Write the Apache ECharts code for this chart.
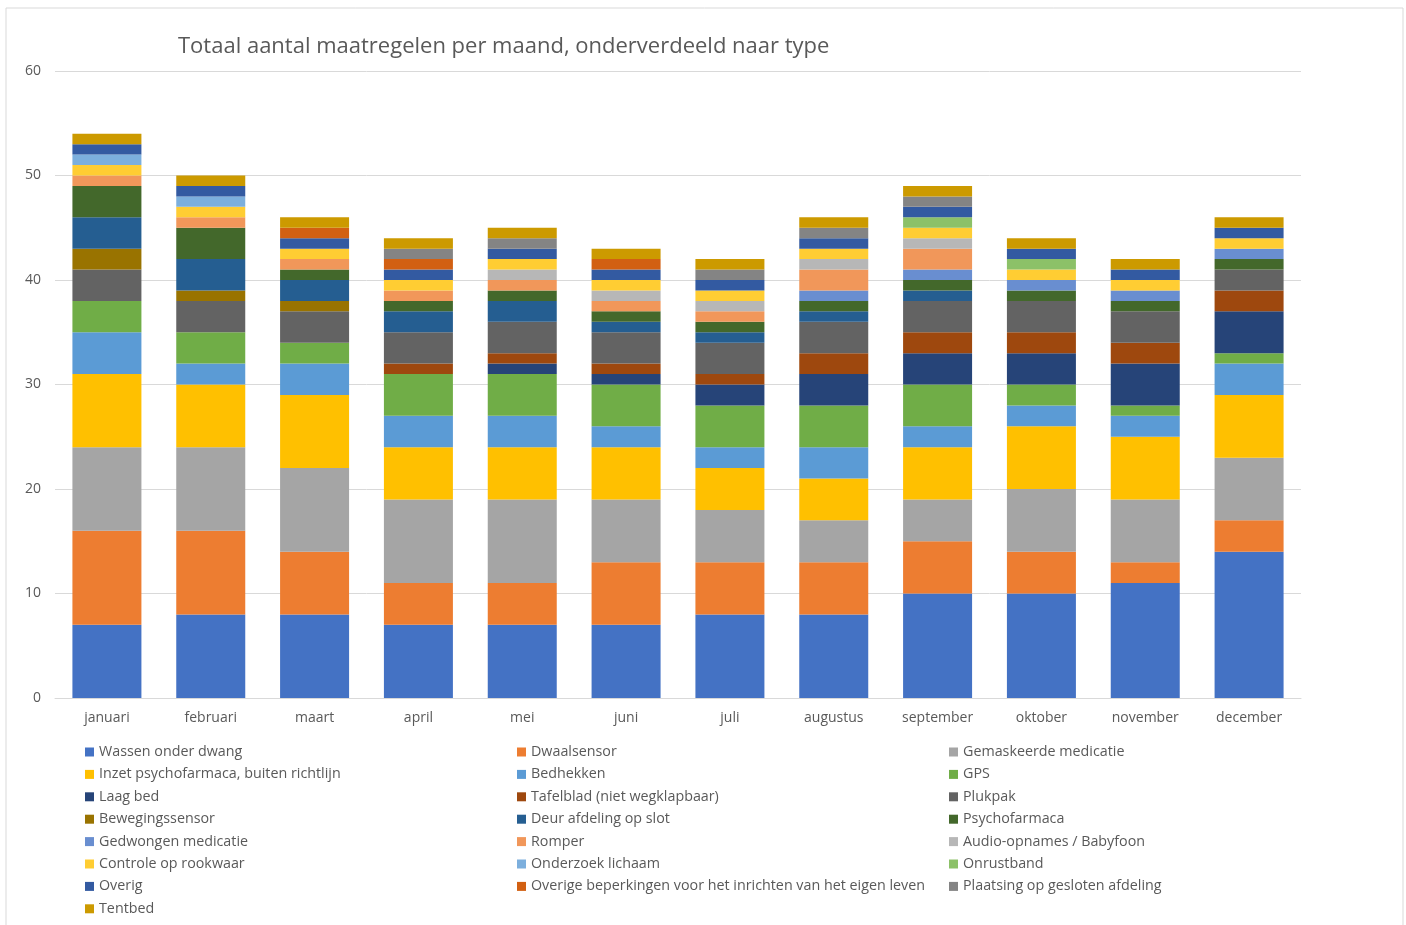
<!DOCTYPE html>
<html><head><meta charset="utf-8">
<script src="https://cdn.jsdelivr.net/npm/echarts@6/dist/echarts.min.js"></script>
<style>html,body{margin:0;padding:0;background:#fff}#c{width:1406px;height:925px}</style>
</head><body><div id="c"></div>
<script>
const months = ['januari','februari','maart','april','mei','juni','juli','augustus','september','oktober','november','december'];
const yTicks = [0,10,20,30,40,50,60];
const seriesNames = ['Wassen onder dwang','Dwaalsensor','Gemaskeerde medicatie','Inzet psychofarmaca, buiten richtlijn','Bedhekken','GPS','Laag bed','Tafelblad (niet wegklapbaar)','Plukpak','Bewegingssensor','Deur afdeling op slot','Psychofarmaca','Gedwongen medicatie','Romper','Audio-opnames / Babyfoon','Controle op rookwaar','Onderzoek lichaam','Onrustband','Overig','Overige beperkingen voor het inrichten van het eigen leven','Plaatsing op gesloten afdeling','Tentbed'];
const colors = ['#4472C4','#ED7D31','#A5A5A5','#FFC000','#5B9BD5','#70AD47','#264478','#9E480E','#636363','#997300','#255E91','#43682B','#698ED0','#F1975A','#B7B7B7','#FFCD33','#7CAFDD','#8CC168','#335AA1','#D26012','#848484','#CC9A00'];

const wassen      = [7,8,8,7,7,7,8,8,10,10,11,14];
const dwaal       = [9,8,6,4,4,6,5,5,5,4,2,3];
const gemask      = [8,8,8,8,8,6,5,4,4,6,6,6];
const inzet       = [7,6,7,5,5,5,4,4,5,6,6,6];
const bedhekken   = [4,2,3,3,3,2,2,3,2,2,2,3];
const gps         = [3,3,2,4,4,4,4,4,4,2,1,1];
const laagBed     = [0,0,0,0,1,1,2,3,3,3,4,4];
const tafelblad   = [0,0,0,1,1,1,1,2,2,2,2,2];
const plukpak     = [3,3,3,3,3,3,3,3,3,3,3,2];
const beweging    = [2,1,1,0,0,0,0,0,0,0,0,0];
const deur        = [3,3,2,2,2,1,1,1,1,0,0,0];
const psycho      = [3,3,1,1,1,1,1,1,1,1,1,1];
const gedwongen   = [0,0,0,0,0,0,0,1,1,1,1,1];
const romper      = [1,1,1,1,1,1,1,2,2,0,0,0];
const audio       = [0,0,0,0,1,1,1,1,1,0,0,0];
const controle    = [1,1,1,1,1,1,1,1,1,1,1,1];
const onderzoek   = [1,1,0,0,0,0,0,0,0,0,0,0];
const onrust      = [0,0,0,0,0,0,0,0,1,1,0,0];
const overig      = [1,1,1,1,1,1,1,1,1,1,1,1];
const overigeBep  = [0,0,1,1,0,1,0,0,0,0,0,0];
const plaatsing   = [0,0,0,1,1,0,1,1,1,0,0,0];
const tentbed     = [1,1,1,1,1,1,1,1,1,1,1,1];

const values = [wassen,dwaal,gemask,inzet,bedhekken,gps,laagBed,tafelblad,plukpak,beweging,deur,psycho,gedwongen,romper,audio,controle,onderzoek,onrust,overig,overigeBep,plaatsing,tentbed];

const FONT = 'Open Sans';
const TXT = '#595959';

const series = seriesNames.map((n,i)=>({
  name:n, type:'bar', stack:'total', barWidth:69,
  data: values[i].map(v=> v===0 ? null : v),
  itemStyle:{color:colors[i]},
  emphasis:{disabled:true}
}));

const legendBase = (x,idxs)=>({
  orient:'vertical', left:x, top:744, height:200, padding:0,
  itemWidth:9, itemHeight:9, itemGap:6.4,
  icon:'rect', selectedMode:false,
  textStyle:{color:TXT, fontFamily:FONT, fontSize:14.3, lineHeight:16},
  data: idxs.map(i=>seriesNames[i])
});

const chart = echarts.init(document.getElementById('c'), null, {renderer:'canvas'});
chart.setOption({
  animation:false,
  color:colors,
  title:{text:'Totaal aantal maatregelen per maand, onderverdeeld naar type', left:173, top:31,
    textStyle:{color:TXT, fontFamily:FONT, fontSize:22, fontWeight:'normal'}},
  graphic:[{type:'rect', shape:{x:6, y:8, width:1397, height:940}, style:{fill:'none', stroke:'#D9D9D9', lineWidth:1}, silent:true}],
  grid:{left:55, right:105, top:71, bottom:227},
  legend:[
    legendBase(85,[0,3,6,9,12,15,18,21]),
    legendBase(517,[1,4,7,10,13,16,19]),
    legendBase(949,[2,5,8,11,14,17,20])
  ],
  xAxis:{type:'category', data:months,
    axisLine:{lineStyle:{color:'#D9D9D9'}}, axisTick:{show:false},
    axisLabel:{color:TXT, fontFamily:FONT, fontSize:14, margin:13}},
  yAxis:{type:'value', min:yTicks[0], max:yTicks[yTicks.length-1], interval:10,
    axisLine:{show:false}, axisTick:{show:false},
    splitLine:{lineStyle:{color:'#D9D9D9'}},
    axisLabel:{color:TXT, fontFamily:FONT, fontSize:14, margin:14}},
  series:series
});
</script></body></html>
